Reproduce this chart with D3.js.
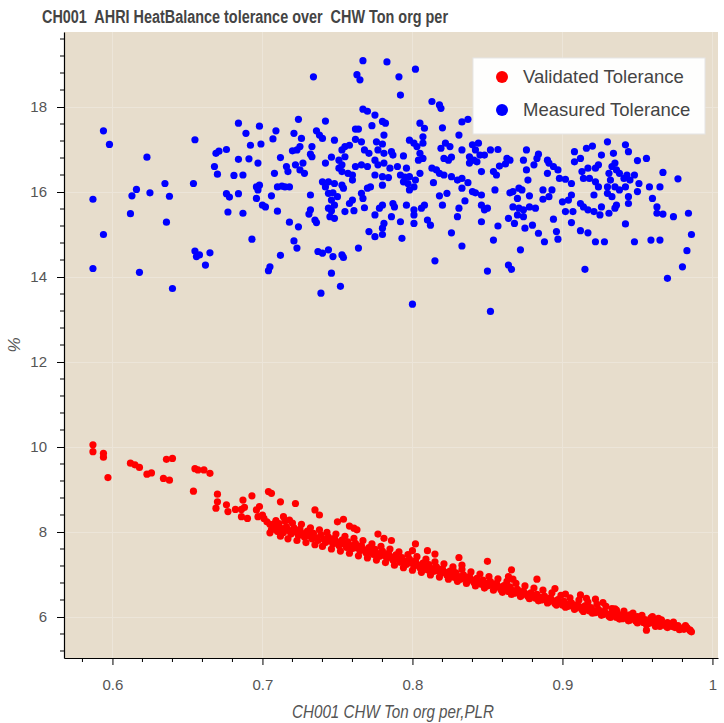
<!DOCTYPE html>
<html>
<head>
<meta charset="utf-8">
<script src="https://cdn.jsdelivr.net/npm/d3@7"></script>
<style>
  html, body { margin: 0; padding: 0; background: #fff; }
  svg { display: block; }
</style>
</head>
<body>
<div id="chart"></div>
<script>
// --- Chart text ---
const titleText = "CH001  AHRI HeatBalance tolerance over  CHW Ton org per";
const xLabel = "CH001 CHW Ton org per,PLR";
const yLabel = "%";
const seriesNames = ["Validated Tolerance", "Measured Tolerance"];
const seriesColors = ["#ff0000", "#0000ff"];

// --- Ticks ---
const xTicks = [0.6, 0.7, 0.8, 0.9, 1];
const xMinorTicks = [0.58, 0.62, 0.64, 0.66, 0.68, 0.72, 0.74, 0.76, 0.78, 0.82, 0.84, 0.86, 0.88, 0.92, 0.94, 0.96, 0.98];
const yTicks = [6, 8, 10, 12, 14, 16, 18];
const yMinorTicks = [5.2, 5.6, 6.4, 6.8, 7.2, 7.6, 8.4, 8.8, 9.2, 9.6, 10.4, 10.8, 11.2, 11.6, 12.4, 12.8, 13.2, 13.6,
  14.4, 14.8, 15.2, 15.6, 16.4, 16.8, 17.2, 17.6, 18.4, 18.8, 19.2, 19.6];

// --- Measured Tolerance (blue) [PLR, %] ---
const measuredTolerance = [
  [0.594,17.44],[0.598,17.12],[0.623,16.82],[0.655,17.23],[0.684,17.62],[0.669,16.91],[0.671,16.96],[0.676,17.00],
  [0.668,16.60],[0.670,16.42],[0.681,16.39],[0.684,16.77],[0.635,16.20],[0.654,16.20],[0.616,16.06],[0.613,15.91],
  [0.625,15.98],[0.638,15.90],[0.587,15.83],[0.676,15.96],[0.678,15.88],[0.684,15.96],[0.612,15.49],[0.677,15.53],
  [0.636,15.29],[0.594,15.00],[0.655,14.61],[0.656,14.48],[0.658,14.52],[0.665,14.57],[0.662,14.28],[0.587,14.20],
  [0.618,14.11],[0.640,13.73],
  [0.767,19.09],[0.783,19.06],[0.734,18.71],[0.763,18.76],[0.765,18.64],[0.767,17.95],[0.770,17.90],[0.775,17.81],
  [0.780,17.66],[0.782,17.62],[0.698,17.55],[0.724,17.71],[0.742,17.67],[0.689,17.38],[0.709,17.44],[0.721,17.38],
  [0.736,17.44],[0.738,17.34],[0.740,17.26],[0.748,17.22],[0.762,17.48],[0.764,17.48],[0.773,17.56],[0.781,17.34],
  [0.707,17.25],[0.726,17.26],[0.692,17.10],[0.699,17.13],[0.725,17.07],[0.723,16.99],[0.733,17.07],[0.755,17.07],
  [0.758,17.10],[0.762,17.24],[0.766,17.18],[0.776,17.18],[0.780,17.13],[0.720,16.97],[0.732,16.89],[0.733,16.83],
  [0.753,16.99],[0.755,16.83],[0.768,16.99],[0.771,16.91],[0.777,16.99],[0.781,16.91],[0.786,16.95],[0.691,16.78],
  [0.712,16.81],[0.697,16.68],[0.742,16.68],[0.746,16.82],[0.751,16.75],[0.753,16.64],[0.762,16.60],[0.766,16.64],
  [0.770,16.60],[0.775,16.75],[0.777,16.64],[0.781,16.68],[0.722,16.64],[0.727,16.68],[0.716,16.60],[0.717,16.48],
  [0.725,16.52],[0.728,16.44],[0.751,16.56],[0.753,16.48],[0.760,16.40],[0.757,16.44],[0.775,16.40],[0.780,16.36],
  [0.784,16.34],[0.687,16.40],[0.708,16.44],[0.740,16.24],[0.742,16.12],[0.744,16.24],[0.748,16.20],[0.753,16.16],
  [0.754,16.09],[0.760,16.28],[0.780,16.16],[0.772,16.12],[0.770,16.09],[0.696,16.12],[0.698,16.16],[0.697,16.05],
  [0.710,16.12],[0.713,16.14],[0.715,16.12],[0.718,16.12],[0.696,15.85],[0.706,15.91],[0.732,15.93],[0.744,15.97],
  [0.747,15.98],[0.750,15.89],[0.766,15.97],[0.767,15.85],[0.746,15.81],[0.748,15.69],[0.760,15.81],[0.758,15.73],
  [0.700,15.69],[0.702,15.65],[0.780,15.69],[0.778,15.62],[0.768,15.63],[0.744,15.62],[0.746,15.56],[0.710,15.55],
  [0.732,15.58],[0.731,15.48],[0.755,15.54],[0.761,15.56],[0.687,15.50],[0.745,15.42],[0.748,15.38],[0.735,15.34],
  [0.736,15.28],[0.775,15.46],[0.718,15.29],[0.724,15.18],[0.781,15.26],[0.780,15.15],[0.771,15.07],[0.775,14.95],
  [0.780,15.00],[0.693,14.89],[0.721,14.85],[0.723,14.68],[0.737,14.60],[0.740,14.56],[0.744,14.64],[0.747,14.48],
  [0.753,14.52],[0.754,14.46],[0.764,14.68],[0.712,14.51],[0.704,14.15],[0.705,14.24],[0.746,14.09],[0.752,13.78],
  [0.739,13.62],
  [0.802,18.89],[0.791,18.71],[0.792,18.28],[0.813,18.13],[0.818,18.05],[0.819,17.97],[0.805,17.62],[0.808,17.50],
  [0.820,17.51],[0.833,17.65],[0.837,17.71],[0.831,17.34],[0.798,17.22],[0.801,17.15],[0.803,17.07],[0.807,17.30],
  [0.807,17.15],[0.822,17.15],[0.819,17.03],[0.825,17.07],[0.840,17.11],[0.844,17.15],[0.842,16.99],[0.833,16.99],
  [0.852,16.99],[0.857,17.00],[0.787,16.87],[0.794,16.85],[0.805,16.91],[0.807,16.79],[0.804,16.75],[0.821,16.79],
  [0.824,16.75],[0.826,16.82],[0.838,16.83],[0.841,16.75],[0.845,16.87],[0.848,16.87],[0.863,16.79],[0.865,16.75],
  [0.862,16.66],[0.858,16.61],[0.874,16.75],[0.876,16.99],[0.884,16.89],[0.883,16.79],[0.890,16.75],[0.785,16.56],
  [0.790,16.60],[0.796,16.56],[0.813,16.56],[0.816,16.52],[0.818,16.44],[0.838,16.68],[0.843,16.71],[0.846,16.48],
  [0.854,16.48],[0.856,16.40],[0.876,16.52],[0.881,16.64],[0.890,16.44],[0.792,16.40],[0.795,16.35],[0.798,16.36],
  [0.802,16.28],[0.805,16.44],[0.821,16.40],[0.826,16.36],[0.830,16.28],[0.833,16.32],[0.837,16.22],[0.794,16.24],
  [0.797,16.20],[0.801,16.12],[0.798,16.05],[0.814,16.22],[0.833,16.09],[0.840,16.01],[0.842,15.98],[0.846,15.93],
  [0.855,16.05],[0.865,15.98],[0.867,16.01],[0.871,16.09],[0.873,16.05],[0.877,16.28],[0.887,16.05],[0.887,15.83],
  [0.818,15.91],[0.823,15.97],[0.835,15.79],[0.870,15.85],[0.878,15.91],[0.787,15.73],[0.788,15.65],[0.796,15.69],
  [0.808,15.69],[0.806,15.62],[0.801,15.58],[0.820,15.69],[0.846,15.69],[0.848,15.58],[0.850,15.62],[0.831,15.62],
  [0.867,15.65],[0.871,15.62],[0.874,15.58],[0.878,15.65],[0.882,15.62],[0.786,15.42],[0.801,15.46],[0.810,15.34],
  [0.812,15.22],[0.830,15.42],[0.864,15.38],[0.870,15.46],[0.874,15.42],[0.792,15.30],[0.801,15.26],[0.846,15.30],
  [0.857,15.20],[0.868,15.26],[0.875,15.15],[0.880,15.22],[0.826,15.04],[0.884,15.03],[0.793,14.91],[0.854,14.87],
  [0.888,14.83],[0.833,14.73],[0.872,14.64],[0.815,14.38],[0.864,14.28],[0.866,14.18],[0.850,14.14],[0.800,13.36],
  [0.852,13.19],
  [0.930,17.18],[0.942,17.11],[0.944,16.95],[0.916,17.03],[0.920,17.08],[0.908,16.95],[0.912,16.79],[0.908,16.71],
  [0.891,16.68],[0.894,16.60],[0.897,16.52],[0.926,16.87],[0.924,16.64],[0.922,16.56],[0.934,16.91],[0.935,16.68],
  [0.933,16.60],[0.936,16.52],[0.917,16.56],[0.950,16.74],[0.956,16.79],[0.967,16.46],[0.977,16.31],[0.913,16.48],
  [0.914,16.32],[0.918,16.32],[0.922,16.24],[0.924,16.12],[0.931,16.44],[0.932,16.28],[0.930,16.12],[0.938,16.44],
  [0.941,16.32],[0.943,16.40],[0.945,16.28],[0.948,16.40],[0.898,16.32],[0.902,16.30],[0.906,16.20],[0.951,16.20],
  [0.935,16.12],[0.938,16.05],[0.942,16.12],[0.958,16.12],[0.965,16.12],[0.893,16.05],[0.891,15.89],[0.921,15.93],
  [0.930,15.97],[0.933,15.89],[0.944,15.89],[0.950,16.01],[0.960,15.85],[0.900,15.77],[0.904,15.81],[0.906,15.93],
  [0.912,15.73],[0.914,15.65],[0.917,15.58],[0.921,15.54],[0.926,15.65],[0.925,15.46],[0.931,15.50],[0.935,15.62],
  [0.936,15.69],[0.944,15.73],[0.963,15.65],[0.963,15.50],[0.967,15.48],[0.974,15.42],[0.984,15.50],[0.902,15.54],
  [0.907,15.54],[0.894,15.36],[0.906,15.28],[0.942,15.25],[0.986,15.00],[0.896,15.07],[0.897,14.89],[0.912,15.09],
  [0.917,15.04],[0.922,14.83],[0.928,14.83],[0.948,14.83],[0.959,14.87],[0.965,14.87],[0.983,14.62],[0.980,14.24],
  [0.915,14.18],[0.970,13.97]
];

// --- Validated Tolerance (red) [PLR, %] ---
const validatedTolerance = [
  [0.587,10.05],[0.587,9.89],[0.594,9.85],[0.594,9.76],[0.597,9.28],[0.612,9.62],[0.615,9.58],[0.618,9.52],
  [0.623,9.36],[0.626,9.39],[0.636,9.71],[0.640,9.73],[0.634,9.26],[0.638,9.22],[0.655,9.49],[0.657,9.46],
  [0.661,9.46],[0.665,9.38],[0.654,8.96],[0.670,8.89],[0.670,8.71],[0.669,8.56],[0.676,8.64],[0.677,8.48],
  [0.682,8.53],[0.686,8.53],[0.688,8.58],[0.687,8.75],[0.693,8.85],[0.686,8.36],[0.690,8.32],[0.696,8.52],
  [0.698,8.60],[0.700,8.40],[0.697,8.36],[0.701,8.32],[0.704,8.95],[0.706,8.91],[0.712,8.71],[0.714,8.36],
  [0.722,8.67],[0.707,8.16],[0.710,8.09],[0.708,8.20],[0.718,8.28],[0.735,8.52],[0.738,8.40],[0.750,8.24],
  [0.754,8.30],[0.758,8.14],[0.763,8.05],[0.761,8.09],[0.777,7.95],[0.781,7.85],[0.786,7.80],[0.802,7.72],
  [0.800,7.56],[0.810,7.56],[0.815,7.48],[0.831,7.40],[0.833,7.22],[0.827,7.11],[0.850,7.31],[0.866,7.11],
  [0.864,6.95],[0.867,6.89],[0.883,6.89],[0.865,6.71],[0.895,6.67],[0.902,6.54],[0.912,6.52],[0.916,6.44],
  [0.922,6.42],[0.927,6.34],[0.933,6.20],[0.936,6.16],[0.941,6.09],[0.945,6.05],[0.950,6.01],[0.960,6.01],
  [0.964,5.97],[0.965,5.78],[0.970,5.87],[0.974,5.81],[0.981,5.73],[0.985,5.69],[0.956,5.69],
  [0.705,8.18],[0.706,8.05],[0.708,8.14],[0.710,8.01],[0.711,8.20],[0.713,8.08],[0.714,7.99],[0.716,8.12],
  [0.718,8.03],[0.719,7.95],[0.721,8.10],[0.722,8.00],[0.724,7.92],[0.725,8.06],
  [0.727,7.96],[0.728,7.88],[0.730,8.02],[0.731,7.91],[0.733,7.84],[0.734,7.97],[0.736,7.86],[0.737,7.80],
  [0.739,7.93],[0.741,7.83],[0.742,7.75],[0.744,7.88],[0.745,7.79],[0.747,7.72],[0.748,7.85],[0.750,7.76],
  [0.751,7.68],[0.753,7.81],[0.754,7.72],[0.756,7.64],[0.757,7.77],[0.759,7.68],
  [0.760,7.61],[0.762,7.73],[0.763,7.63],[0.765,7.56],[0.766,7.68],[0.768,7.58],[0.769,7.51],[0.771,7.63],
  [0.772,7.54],[0.774,7.47],[0.775,7.59],[0.777,7.49],[0.778,7.43],[0.780,7.55],[0.781,7.45],[0.783,7.38],
  [0.784,7.50],[0.786,7.41],[0.787,7.34],[0.789,7.46],[0.790,7.36],[0.792,7.29],
  [0.793,7.40],[0.795,7.31],[0.796,7.24],[0.798,7.36],[0.799,7.27],[0.801,7.20],[0.802,7.32],[0.804,7.22],
  [0.805,7.16],[0.807,7.27],[0.808,7.18],[0.810,7.11],[0.811,7.23],[0.813,7.14],[0.814,7.07],[0.816,7.18],
  [0.817,7.09],[0.819,7.03],[0.820,7.13],[0.822,7.05],[0.823,6.98],[0.825,7.08],
  [0.826,6.99],[0.828,6.93],[0.829,7.04],[0.831,6.95],[0.832,6.89],[0.834,6.99],[0.835,6.91],[0.837,6.85],
  [0.838,6.95],[0.840,6.87],[0.841,6.81],[0.843,6.91],[0.844,6.83],[0.846,6.77],[0.847,6.87],[0.849,6.79],
  [0.850,6.73],[0.852,6.83],[0.853,6.75],[0.855,6.69],[0.856,6.79],[0.858,6.71],
  [0.859,6.64],[0.861,6.74],[0.862,6.66],[0.864,6.60],[0.865,6.69],[0.867,6.62],[0.868,6.56],[0.870,6.65],
  [0.871,6.58],[0.873,6.52],[0.874,6.61],[0.876,6.54],[0.877,6.48],[0.879,6.57],[0.880,6.50],[0.882,6.44],
  [0.883,6.53],[0.885,6.46],[0.886,6.40],[0.888,6.49],[0.889,6.42],[0.891,6.36],[0.892,6.45],
  [0.894,6.38],[0.895,6.32],[0.897,6.41],[0.898,6.34],[0.900,6.28],[0.901,6.37],[0.903,6.30],[0.904,6.25],
  [0.906,6.33],[0.907,6.26],[0.909,6.21],[0.910,6.29],[0.912,6.23],[0.913,6.17],[0.915,6.26],[0.916,6.19],
  [0.918,6.14],[0.919,6.22],[0.921,6.15],[0.922,6.10],[0.924,6.18],[0.925,6.12],[0.927,6.06],
  [0.928,6.14],[0.930,6.07],[0.931,6.02],[0.933,6.10],[0.934,6.04],[0.936,5.99],[0.937,6.07],[0.939,6.01],
  [0.940,5.96],[0.942,6.03],[0.943,5.98],[0.945,5.93],[0.946,6.00],[0.948,5.95],[0.949,5.90],[0.951,5.97],
  [0.952,5.92],[0.954,5.87],[0.955,5.94],[0.957,5.89],[0.958,5.85],
  [0.960,5.91],[0.962,5.86],[0.963,5.82],[0.965,5.88],[0.967,5.83],[0.969,5.79],[0.971,5.84],[0.973,5.78],
  [0.975,5.75],[0.977,5.80],[0.979,5.74],[0.981,5.71],[0.983,5.75],[0.985,5.69],
  // wider spread of the dense band
  [0.703,8.24],[0.705,7.98],[0.709,8.27],[0.712,7.90],[0.715,8.26],[0.717,7.84],[0.720,8.21],[0.723,7.80],
  [0.726,8.18],[0.729,7.75],[0.732,8.10],[0.735,7.70],[0.738,8.05],[0.740,7.66],[0.743,7.99],[0.746,7.60],
  [0.749,7.95],[0.752,7.55],[0.755,7.90],[0.758,7.50],[0.761,7.85],
  [0.764,7.44],[0.767,7.80],[0.770,7.39],[0.773,7.72],[0.776,7.34],[0.779,7.66],[0.782,7.28],[0.785,7.60],
  [0.788,7.22],[0.791,7.53],[0.794,7.16],[0.797,7.47],[0.800,7.10],[0.803,7.42],[0.806,7.05],[0.809,7.36],
  [0.812,6.99],[0.815,7.30],[0.818,6.94],[0.821,7.25],[0.824,6.89],[0.827,7.18],
  [0.830,6.84],[0.833,7.12],[0.836,6.79],[0.839,7.06],[0.842,6.73],[0.845,7.01],[0.848,6.68],[0.851,6.95],
  [0.854,6.63],[0.857,6.90],[0.860,6.58],[0.863,6.84],[0.866,6.53],[0.869,6.79],[0.872,6.48],[0.875,6.73],
  [0.878,6.43],[0.881,6.68],[0.884,6.38],[0.887,6.63],[0.890,6.33],[0.893,6.57],
  [0.896,6.28],[0.899,6.51],[0.902,6.23],[0.905,6.45],[0.908,6.18],[0.911,6.40],[0.914,6.13],[0.917,6.35],
  [0.920,6.09],[0.923,6.30],[0.926,6.04],[0.929,6.25],[0.932,5.99],[0.935,6.19],[0.938,5.95],[0.941,6.14],
  [0.944,5.91],[0.947,6.09],[0.950,5.86],[0.953,6.04],[0.956,5.82],[0.959,5.98],[0.962,5.78],[0.966,5.93],
  [0.970,5.75],[0.974,5.88],[0.978,5.70],[0.982,5.80],[0.986,5.65]
];

// --- Dimensions ---
const width = 724;
const height = 723;
const plot = { left: 64, right: 718, top: 32, bottom: 658 };

const svg = d3
  .select("#chart")
  .append("svg")
  .attr("width", width)
  .attr("height", height);

const x = d3.scaleLinear().domain([0.5677, 1.0037]).range([plot.left, plot.right]);
const y = d3.scaleLinear().domain([5.035, 19.765]).range([plot.bottom, plot.top]);

// --- Plot background + grid ---
svg.append("rect")
  .attr("x", plot.left).attr("y", plot.top)
  .attr("width", plot.right - plot.left).attr("height", plot.bottom - plot.top)
  .attr("fill", "#e7ddcc");

const grid = svg.append("g").attr("stroke", "#ece5d9").attr("stroke-width", 1);
grid.selectAll("line.v").data(xTicks).join("line")
  .attr("x1", (d) => Math.round(x(d)) + 0.5).attr("x2", (d) => Math.round(x(d)) + 0.5)
  .attr("y1", plot.top).attr("y2", plot.bottom);
grid.selectAll("line.h").data(yTicks).join("line")
  .attr("y1", (d) => Math.round(y(d)) + 0.5).attr("y2", (d) => Math.round(y(d)) + 0.5)
  .attr("x1", plot.left).attr("x2", plot.right);

// --- Points ---
const dots = svg.append("g");
dots.selectAll("circle.v").data(validatedTolerance).join("circle")
  .attr("cx", (d) => x(d[0])).attr("cy", (d) => y(d[1]))
  .attr("r", 3.6).attr("fill", seriesColors[0]);
dots.selectAll("circle.m").data(measuredTolerance).join("circle")
  .attr("cx", (d) => x(d[0])).attr("cy", (d) => y(d[1]))
  .attr("r", 3.6).attr("fill", seriesColors[1]);

// --- Axes ---
const tickFont = "'Liberation Sans', Arial, sans-serif";

const xAxis = svg.append("g")
  .attr("transform", `translate(0,${plot.bottom})`)
  .call(d3.axisBottom(x).tickValues(xTicks).tickSize(7).tickSizeOuter(0).tickPadding(14)
    .tickFormat((d) => (d === 1 ? "1" : d3.format(".1f")(d))));
xAxis.append("g").selectAll("line").data(xMinorTicks).join("line")
  .attr("x1", (d) => x(d)).attr("x2", (d) => x(d)).attr("y1", 0).attr("y2", 4)
  .attr("stroke", "#000");

const yAxis = svg.append("g")
  .attr("transform", `translate(${plot.left},0)`)
  .call(d3.axisLeft(y).tickValues(yTicks).tickSize(7).tickSizeOuter(0).tickPadding(10));
yAxis.append("g").selectAll("line").data(yMinorTicks).join("line")
  .attr("y1", (d) => y(d)).attr("y2", (d) => y(d)).attr("x1", 0).attr("x2", -4)
  .attr("stroke", "#000");

[xAxis, yAxis].forEach((ax) => {
  ax.select(".domain").attr("stroke", "#000").attr("stroke-width", 1.2);
  ax.selectAll(".tick line").attr("stroke", "#000");
  ax.selectAll(".tick text")
    .attr("fill", "#555")
    .style("font-family", tickFont)
    .style("font-size", "15px");
});

// --- Labels ---
svg.append("text")
  .attr("x", 42).attr("y", 23)
  .attr("xml:space", "preserve")
  .style("white-space", "pre")
  .style("font-family", tickFont)
  .style("font-size", "18px")
  .style("font-weight", "bold")
  .attr("textLength", 406)
  .attr("lengthAdjust", "spacingAndGlyphs")
  .attr("fill", "#444")
  .text(titleText);

svg.append("text")
  .attr("x", 393).attr("y", 718)
  .attr("text-anchor", "middle")
  .style("font-family", tickFont)
  .style("font-size", "18px")
  .style("font-style", "italic")
  .attr("textLength", 202)
  .attr("lengthAdjust", "spacingAndGlyphs")
  .attr("fill", "#555")
  .text(xLabel);

svg.append("text")
  .attr("transform", `translate(20,${(plot.top + plot.bottom) / 2}) rotate(-90)`)
  .attr("text-anchor", "middle")
  .style("font-family", tickFont)
  .style("font-size", "17px")
  .style("font-style", "italic")
  .attr("fill", "#555")
  .text(yLabel);

// --- Legend ---
const legend = svg.append("g").attr("transform", "translate(473,58)");
legend.append("rect")
  .attr("width", 232).attr("height", 76)
  .attr("fill", "#fff").attr("fill-opacity", 0.95)
  .attr("stroke", "#e5e5e5");
const items = legend.selectAll("g.item").data(seriesNames).join("g")
  .attr("transform", (d, i) => `translate(29,${19 + i * 33})`);
items.append("circle").attr("r", 6).attr("fill", (d, i) => seriesColors[i]);
items.append("text")
  .attr("x", 21).attr("dy", "0.35em")
  .style("font-family", tickFont)
  .style("font-size", "18.5px")
  .attr("fill", "#444")
  .text((d) => d);
</script>
</body>
</html>
